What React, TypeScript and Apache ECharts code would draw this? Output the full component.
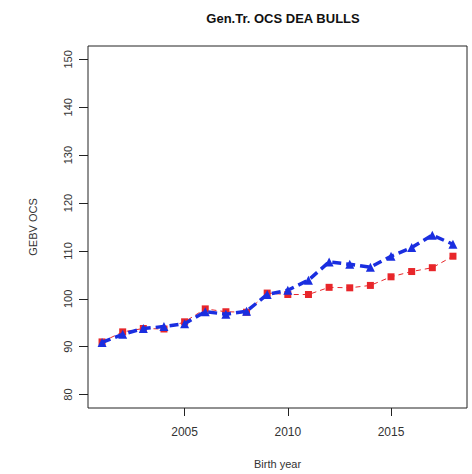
import React, { useEffect, useRef } from "react";
import * as echarts from "echarts";

const years = [2001, 2002, 2003, 2004, 2005, 2006, 2007, 2008, 2009, 2010, 2011, 2012, 2013, 2014, 2015, 2016, 2017, 2018];
const redValues = [91.0, 93.1, 93.8, 93.7, 95.2, 97.9, 97.3, 97.2, 101.2, 100.9, 100.9, 102.4, 102.3, 102.8, 104.6, 105.7, 106.5, 108.9];
const blueValues = [90.9, 92.6, 93.8, 94.2, 94.8, 97.3, 96.8, 97.4, 100.9, 101.8, 103.9, 107.7, 107.2, 106.6, 108.9, 110.7, 113.3, 111.4];
const xTicks = [2005, 2010, 2015];
const yTicks = [80, 90, 100, 110, 120, 130, 140, 150];

export default function App() {
  const ref = useRef<HTMLDivElement>(null);
  useEffect(() => {
    document.body.style.margin = "0";
    const chart = echarts.init(ref.current!, null, { renderer: "svg" });
    const font = "'Liberation Sans', Arial, sans-serif";
    chart.setOption({
      animation: false,
      backgroundColor: "#ffffff",
      textStyle: { fontFamily: font },
      title: {
        text: "Gen.Tr. OCS DEA BULLS",
        left: 278,
        top: 7,
        textAlign: "center",
        textStyle: { fontFamily: font, fontSize: 13, fontWeight: "bold", color: "#111" },
      },
      grid: {
        left: 88,
        top: 46,
        right: 5,
        bottom: 66,
        show: true,
        borderColor: "#222",
        borderWidth: 1,
        backgroundColor: "transparent",
      },
      xAxis: {
        type: "value",
        min: 2000.32,
        max: 2018.68,
        name: "Birth year",
        nameLocation: "middle",
        nameGap: 50,
        nameTextStyle: { fontFamily: font, fontSize: 11, color: "#333" },
        axisLine: { show: false },
        splitLine: { show: false },
        axisTick: { show: true, length: 8, inside: false, customValues: xTicks, lineStyle: { color: "#222" } },
        axisLabel: {
          customValues: xTicks,
          fontSize: 12,
          color: "#333",
          margin: 18,
          fontFamily: font,
          formatter: (v: number) => String(Math.round(v)),
        },
      },
      yAxis: {
        type: "value",
        min: 77.2,
        max: 152.8,
        name: "GEBV OCS",
        nameLocation: "middle",
        nameGap: 50,
        nameRotate: 90,
        nameTextStyle: { fontFamily: font, fontSize: 11, color: "#333" },
        axisLine: { show: false },
        splitLine: { show: false },
        axisTick: { show: true, length: 9, inside: false, customValues: yTicks, lineStyle: { color: "#222" } },
        axisLabel: {
          customValues: yTicks,
          fontSize: 11,
          color: "#333",
          margin: 15,
          rotate: 90,
          fontFamily: font,
          formatter: (v: number) => String(Math.round(v)),
        },
      },
      series: [
        {
          type: "line",
          data: years.map((y, i) => [y, redValues[i]]),
          symbol: "rect",
          symbolSize: 7,
          lineStyle: { color: "#e8262a", width: 1, type: [5, 4] },
          itemStyle: { color: "#e8262a" },
          z: 2,
        },
        {
          type: "line",
          data: years.map((y, i) => [y, blueValues[i]]),
          symbol: "triangle",
          symbolSize: 9,
          lineStyle: { color: "#1a2ee0", width: 3.5, type: [9, 5] },
          itemStyle: { color: "#1a2ee0" },
          z: 3,
        },
      ],
    });
    return () => chart.dispose();
  }, []);
  return <div ref={ref} style={{ width: 472, height: 474 }} />;
}
